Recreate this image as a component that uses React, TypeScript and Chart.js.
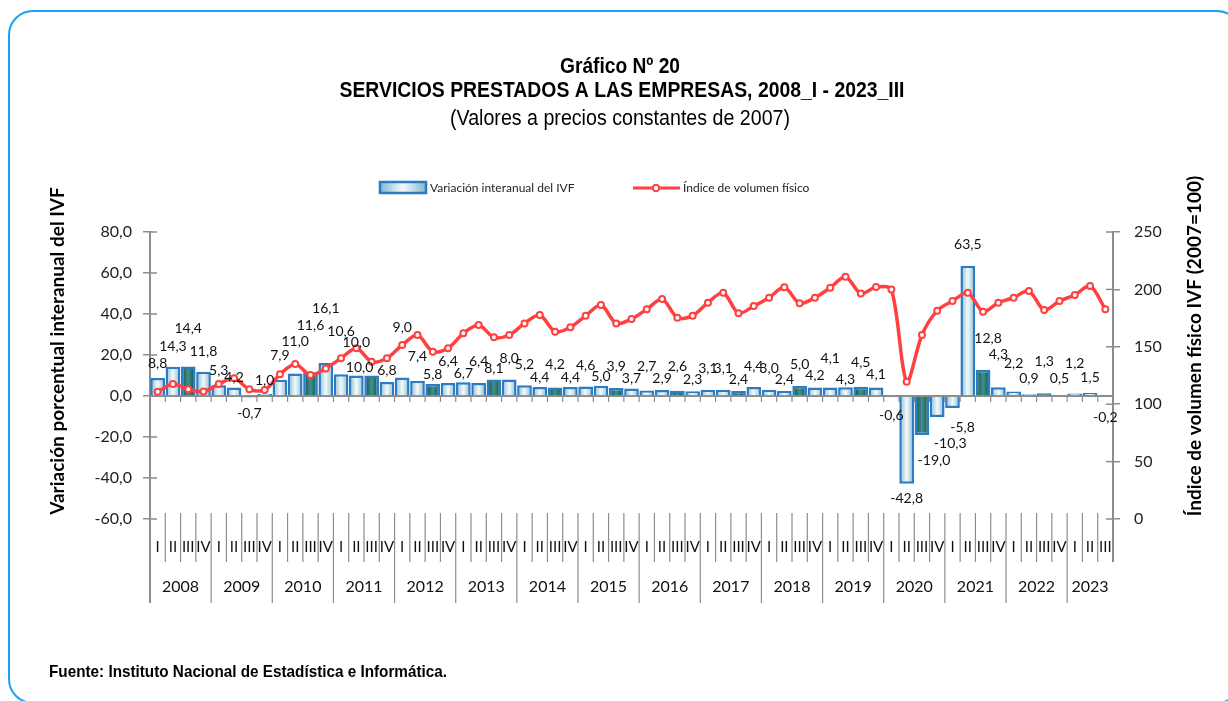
import React, { useEffect, useRef } from "react";
import { Chart, registerables } from "chart.js";

Chart.register(...registerables);

// ---------- data ----------
const years = ["2008", "2009", "2010", "2011", "2012", "2013", "2014", "2015", "2016", "2017", "2018", "2019", "2020", "2021", "2022", "2023"];
const quarterNames = ["I", "II", "III", "IV"];
const quartersInLastYear = 3;

// Variación interanual del IVF (%)
const variation = [
  8.8, 14.3, 14.4, 11.8,
  5.3, 4.2, -0.7, 1.0,
  7.9, 11.0, 11.6, 16.1,
  10.6, 10.0, 10.0, 6.8,
  9.0, 7.4, 5.8, 6.4,
  6.7, 6.4, 8.1, 8.0,
  5.2, 4.4, 4.2, 4.4,
  4.6, 5.0, 3.9, 3.7,
  2.7, 2.9, 2.6, 2.3,
  3.1, 3.1, 2.4, 4.4,
  3.0, 2.4, 5.0, 4.2,
  4.1, 4.3, 4.5, 4.1,
  -0.6, -42.8, -19.0, -10.3,
  -5.8, 63.5, 12.8, 4.3,
  2.2, 0.9, 1.3, 0.5,
  1.2, 1.5, -0.2,
];

// Índice de volumen físico (2007=100)
const ivf = [
  110.9, 117.6, 113.0, 111.0,
  117.6, 122.5, 113.0, 112.4,
  126.0, 135.0, 125.4, 131.2,
  140.0, 148.7, 137.0, 140.0,
  151.6, 160.3, 145.7, 148.7,
  161.7, 169.0, 158.3, 160.3,
  170.4, 177.7, 163.2, 167.0,
  177.0, 186.4, 170.4, 174.2,
  182.7, 191.6, 175.4, 177.0,
  188.4, 197.1, 179.2, 185.5,
  192.8, 201.8, 187.9, 192.8,
  201.5, 211.0, 196.4, 202.0,
  200.0, 119.6, 160.3, 181.5,
  189.9, 197.1, 180.6, 188.4,
  192.8, 198.6, 182.0, 189.9,
  195.1, 203.0, 182.7,
];

const leftTicks = { min: -60, max: 80, step: 20 };
const rightTicks = { min: 0, max: 250, step: 50 };

const titleLines = ["Gráfico Nº 20", "SERVICIOS PRESTADOS A LAS EMPRESAS, 2008_I - 2023_III"];
const subtitleText = "(Valores a precios constantes de 2007)";
const seriesNames = ["Variación interanual del IVF", "Índice de volumen físico"];
const leftAxisTitle = "Variación porcentual interanual del IVF";
const rightAxisTitle = "Índice de volumen físico IVF (2007=100)";
const sourceText = "Fuente: Instituto Nacional de Estadística e Informática.";

// presentation: label nudges (px) relative to bar end, as placed in the original
const labelDy = [
  -14, -20, -38, -20, -15, -10, 16, -13, -24, -32, -47, -55, -43, -33, -8, -12,
  -50, -24, -10, -21, -9, -21, -11, -21, -21, -9, -23, -9, -21, -9, -22, -10,
  -24, -12, -24, -12, -21, -21, -12, -20, -21, -12, -21, -12, -29, -8, -24, -13,
  18, 15, 26, 26, 20, -21, -31, -33, -28, -16, -32, -16, -30, -15, 21,
];
const labelDx = variation.map((_, i) =>
  i === 14 ? -12 : i === 50 ? 12 : i === 51 ? 13 : i === 52 ? 10 : i === 54 ? 5 : 0
);

const categories: string[] = [];
years.forEach((y, yi) => {
  const n = yi === years.length - 1 ? quartersInLastYear : 4;
  for (let q = 0; q < n; q++) categories.push(`${y}_${quarterNames[q]}`);
});

// ---------- styles ----------
const CAL = 'Lato, "Open Sans", sans-serif';
const ARIAL = '"Liberation Sans", Arial, sans-serif';
const AXIS_GRAY = "#8c8c8c";
const RED = "#ff4040";
const BAR_BORDER = "#2b7cc2";

const fmt = (v: number) => v.toFixed(1).replace(".", ",");

function barGradient(ctx: CanvasRenderingContext2D, x0: number, x1: number, dark: boolean) {
  const g = ctx.createLinearGradient(x0, 0, x1, 0);
  if (dark) {
    g.addColorStop(0, "#0f4a47");
    g.addColorStop(0.5, "#3f9189");
    g.addColorStop(1, "#0f4a47");
  } else {
    g.addColorStop(0, "#86b6cf");
    g.addColorStop(0.5, "#f3fafa");
    g.addColorStop(1, "#86b6cf");
  }
  return g;
}

// condensed text (Arial Narrow look) fitted to a target width
function narrowText(ctx: CanvasRenderingContext2D, text: string, x: number, y: number, targetW: number) {
  const w = ctx.measureText(text).width;
  const s = targetW / w;
  ctx.save();
  ctx.translate(x, y);
  ctx.scale(s, 1);
  ctx.fillText(text, 0, 0);
  ctx.restore();
}

const decorPlugin = {
  id: "decor",
  beforeDraw(chart: any) {
    const ctx: CanvasRenderingContext2D = chart.ctx;
    ctx.save();
    ctx.fillStyle = "#ffffff";
    ctx.fillRect(0, 0, chart.width, chart.height);
    // frame
    ctx.strokeStyle = "#1ea1f2";
    ctx.lineWidth = 2;
    ctx.beginPath();
    (ctx as any).roundRect(9, 11, 1232, 692, 24);
    ctx.stroke();
    // titles
    ctx.fillStyle = "#000";
    ctx.textAlign = "center";
    ctx.textBaseline = "middle";
    ctx.font = `bold 22px ${ARIAL}`;
    narrowText(ctx, titleLines[0], 620, 67, 120);
    narrowText(ctx, titleLines[1], 622, 91, 565);
    ctx.font = `22px ${ARIAL}`;
    narrowText(ctx, subtitleText, 620, 119, 340);
    // legend
    ctx.fillStyle = barGradient(ctx, 380, 426, false);
    ctx.fillRect(380, 182, 46, 11);
    ctx.strokeStyle = BAR_BORDER;
    ctx.lineWidth = 2.5;
    ctx.strokeRect(380, 182, 46, 11);
    ctx.fillStyle = "#222";
    ctx.textAlign = "left";
    ctx.font = `12px ${CAL}`;
    ctx.fillText(seriesNames[0], 430, 188);
    ctx.strokeStyle = RED;
    ctx.lineWidth = 3;
    ctx.beginPath();
    ctx.moveTo(633, 188);
    ctx.lineTo(680, 188);
    ctx.stroke();
    ctx.beginPath();
    ctx.arc(656, 188, 3.2, 0, Math.PI * 2);
    ctx.fillStyle = "#fff";
    ctx.fill();
    ctx.lineWidth = 2;
    ctx.stroke();
    ctx.fillStyle = "#222";
    ctx.fillText(seriesNames[1], 683, 188);
    // axis titles
    ctx.font = `bold 19px ${CAL}`;
    ctx.fillStyle = "#000";
    ctx.textAlign = "center";
    ctx.save();
    ctx.translate(58, 351);
    ctx.rotate(-Math.PI / 2);
    ctx.fillText(leftAxisTitle, 0, 0);
    ctx.restore();
    ctx.save();
    ctx.translate(1195, 346);
    ctx.rotate(-Math.PI / 2);
    ctx.fillText(rightAxisTitle, 0, 0);
    ctx.restore();
    // source
    ctx.textAlign = "left";
    ctx.font = `bold 17px ${ARIAL}`;
    narrowText(ctx, sourceText, 49, 672, 398);
    ctx.restore();
  },
  beforeDatasetsDraw(chart: any) {
    const ctx: CanvasRenderingContext2D = chart.ctx;
    const xs = chart.scales.x;
    const ys = chart.scales.y;
    const y1 = chart.scales.y1;
    const area = chart.chartArea;
    const n = categories.length;
    const slot = (area.right - area.left) / n;
    ctx.save();
    ctx.strokeStyle = AXIS_GRAY;
    // zero line with ticks
    const y0 = ys.getPixelForValue(0);
    ctx.lineWidth = 2;
    ctx.beginPath();
    ctx.moveTo(area.left, y0);
    ctx.lineTo(area.right, y0);
    ctx.stroke();
    ctx.lineWidth = 1.2;
    for (let i = 1; i < n; i++) {
      const bx = xs.getPixelForValue(i) - slot / 2;
      ctx.beginPath();
      ctx.moveTo(bx, y0);
      ctx.lineTo(bx, y0 + 6);
      ctx.stroke();
    }
    // inner halves of cross ticks
    ctx.lineWidth = 1.5;
    for (let v = leftTicks.min; v <= leftTicks.max; v += leftTicks.step) {
      const py = ys.getPixelForValue(v);
      ctx.beginPath();
      ctx.moveTo(area.left, py);
      ctx.lineTo(area.left + 7, py);
      ctx.stroke();
    }
    for (let v = rightTicks.min; v <= rightTicks.max; v += rightTicks.step) {
      const py = y1.getPixelForValue(v);
      ctx.beginPath();
      ctx.moveTo(area.right, py);
      ctx.lineTo(area.right - 7, py);
      ctx.stroke();
    }
    // axis extensions into the label area
    ctx.lineWidth = 2;
    ctx.beginPath();
    ctx.moveTo(area.left, area.bottom);
    ctx.lineTo(area.left, area.bottom + 84);
    ctx.moveTo(area.right, area.bottom);
    ctx.lineTo(area.right, area.bottom + 43);
    ctx.stroke();
    // category separators & labels
    ctx.lineWidth = 1.2;
    let idx = 0;
    ctx.fillStyle = "#111";
    ctx.textAlign = "center";
    ctx.textBaseline = "middle";
    years.forEach((y, yi) => {
      const cnt = yi === years.length - 1 ? quartersInLastYear : 4;
      const start = idx;
      for (let q = 0; q < cnt; q++, idx++) {
        const cx = xs.getPixelForValue(idx);
        ctx.font = `15px ${CAL}`;
        ctx.fillText(quarterNames[q], cx, area.bottom + 28);
        if (idx > 0) {
          const bx = cx - slot / 2;
          const yearEdge = q === 0;
          ctx.beginPath();
          ctx.moveTo(bx, area.bottom - 6);
          ctx.lineTo(bx, area.bottom + (yearEdge ? 84 : 43));
          ctx.stroke();
        }
      }
      const x0 = xs.getPixelForValue(start) - slot / 2;
      const x1 = xs.getPixelForValue(idx - 1) + slot / 2;
      ctx.font = `16px ${CAL}`;
      ctx.fillText(y, (x0 + x1) / 2, area.bottom + 68);
    });
    ctx.restore();
  },
  afterDatasetsDraw(chart: any) {
    const ctx: CanvasRenderingContext2D = chart.ctx;
    const meta = chart.getDatasetMeta(0);
    ctx.save();
    ctx.fillStyle = "#111";
    ctx.font = `14px ${CAL}`;
    ctx.textAlign = "center";
    ctx.textBaseline = "middle";
    meta.data.forEach((el: any, i: number) => {
      ctx.fillText(fmt(variation[i]), el.x + labelDx[i], el.y + labelDy[i]);
    });
    ctx.restore();
  },
};

export default function App() {
  const ref = useRef<HTMLCanvasElement | null>(null);
  useEffect(() => {
    if (!ref.current) return;
    const chart = new Chart(ref.current, {
      type: "bar",
      data: {
        labels: categories,
        datasets: [
          {
            type: "bar",
            label: seriesNames[0],
            data: variation,
            yAxisID: "y",
            order: 1,
            categoryPercentage: 1,
            barPercentage: 0.96,
            borderColor: BAR_BORDER,
            borderWidth: 2.5,
            backgroundColor: (c: any) => {
              const chart = c.chart;
              const xs = chart.scales?.x;
              if (c.type !== "data" || !xs || !chart.chartArea) return "#bcd6d8";
              const cx = xs.getPixelForValue(c.dataIndex);
              const half = ((chart.chartArea.right - chart.chartArea.left) / categories.length) * 0.48;
              return barGradient(chart.ctx, cx - half, cx + half, c.dataIndex % 4 === 2);
            },
          } as any,
          {
            type: "line",
            label: seriesNames[1],
            data: ivf,
            yAxisID: "y1",
            order: 0,
            borderColor: RED,
            borderWidth: 3.5,
            tension: 0.3,
            pointRadius: 3,
            pointBorderWidth: 2,
            pointBackgroundColor: "#ffffff",
            pointBorderColor: RED,
          } as any,
        ],
      },
      options: {
        responsive: false,
        animation: false,
        layout: { padding: { left: 8, right: 0, top: 232, bottom: 98 } },
        plugins: {
          legend: { display: false },
          title: { display: false },
          tooltip: { enabled: false },
        },
        scales: {
          x: {
            type: "category",
            offset: true,
            grid: { display: false },
            ticks: { display: false },
            border: { display: false },
            afterFit: (s: any) => {
              s.height = 84;
            },
          },
          y: {
            position: "left",
            min: leftTicks.min,
            max: leftTicks.max,
            ticks: {
              stepSize: leftTicks.step,
              callback: (v: any) => fmt(Number(v)),
              font: { family: CAL, size: 16 },
              color: "#222",
              padding: 11,
            },
            grid: { drawOnChartArea: false, tickLength: 7, color: AXIS_GRAY, lineWidth: 1.5 },
            border: { color: AXIS_GRAY, width: 2 },
            afterFit: (s: any) => {
              s.width = 142;
            },
          },
          y1: {
            position: "right",
            min: rightTicks.min,
            max: rightTicks.max,
            ticks: {
              stepSize: rightTicks.step,
              font: { family: CAL, size: 16 },
              color: "#222",
              padding: 14,
            },
            grid: { drawOnChartArea: false, tickLength: 7, color: AXIS_GRAY, lineWidth: 1.5 },
            border: { color: AXIS_GRAY, width: 2 },
            afterFit: (s: any) => {
              s.width = 115;
            },
          },
        },
      } as any,
      plugins: [decorPlugin],
    });
    return () => chart.destroy();
  }, []);
  return (
    <div style={{ position: "fixed", left: 0, top: 0, width: 1228, height: 701, overflow: "hidden", background: "#fff" }}>
      <canvas ref={ref} width={1228} height={701} style={{ display: "block", width: 1228, height: 701 }} />
    </div>
  );
}
